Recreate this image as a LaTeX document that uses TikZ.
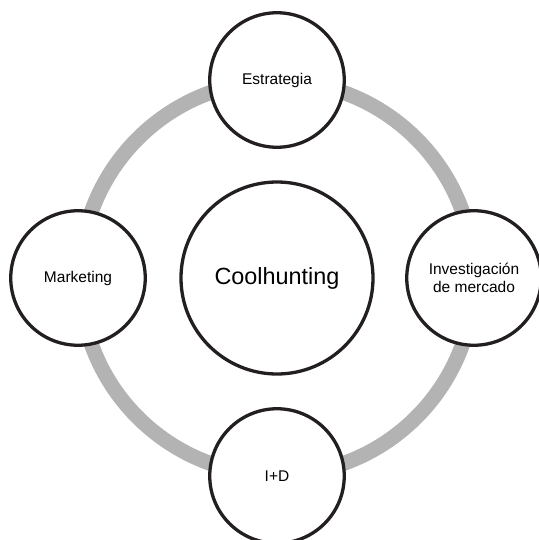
\documentclass[tikz,border=0pt]{standalone}
\usepackage{fontspec}
\setmainfont{Liberation Sans}
\definecolor{ringgray}{HTML}{B3B3B3}
\definecolor{edgeblack}{HTML}{231F20}
\begin{document}
\begin{tikzpicture}[x=1pt,y=-1pt,
  smallnode/.style={circle,draw=edgeblack,line width=3.3pt,fill=white,minimum size=134.5pt,inner sep=0pt,align=center,font=\fontsize{15.5}{18}\selectfont},
  bignode/.style={circle,draw=edgeblack,line width=3.3pt,fill=white,minimum size=192pt,inner sep=0pt,font=\fontsize{23.4}{27}\selectfont},
  ring/.style={draw=ringgray,line width=15pt}]
\useasboundingbox (0,0) rectangle (538,540);
\coordinate (c) at (277,278);
\draw[ring] (c) circle[radius=197];
\node[bignode] (cool) at (c) {Coolhunting};
\node[smallnode] (est) at (277,80) {Estrategia};
\node[smallnode] (inv) at (474,278) {Investigación\\de mercado};
\node[smallnode] (id) at (277,476) {I+D};
\node[smallnode] (mkt) at (78,278) {Marketing};
\end{tikzpicture}
\end{document}
